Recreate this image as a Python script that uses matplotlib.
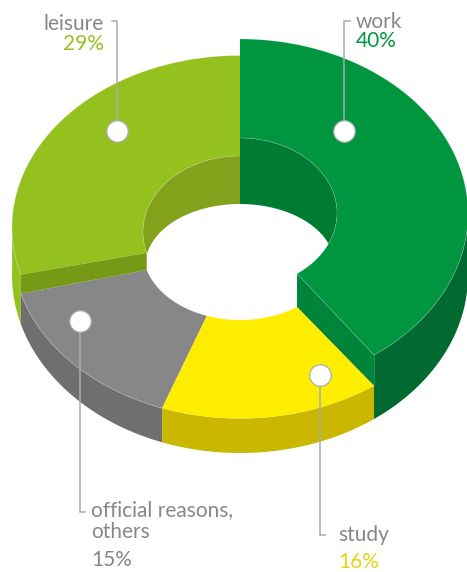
import numpy as np
import matplotlib
matplotlib.use("Agg")
import matplotlib.pyplot as plt

categories = ["work", "study", "official reasons,\nothers", "leisure"]
values = [40, 15.55, 15.03, 29.42]
pct_labels = ["40%", "16%", "15%", "29%"]

top_col = ["#009640", "#FFED00", "#878787", "#95C11F"]
wall_col = ["#006A30", "#C9B700", "#706F6F", "#95C11F"]

plt.rcParams['font.family'] = ['Lato', 'DejaVu Sans']
fig = plt.figure(figsize=(4.67, 5.72), dpi=100)
ax = fig.add_axes([0, 0, 1, 1])
ax.set_xlim(0, 467)
ax.set_ylim(572, 0)
ax.axis("off")

edges = np.concatenate([[0], np.cumsum(values)]) / sum(values) * 360.0
CX = 240


def arc(t0, t1, a, cy, b, n=120):
    t = np.radians(np.linspace(t0, t1, n))
    return CX + a * np.sin(t), cy - b * np.cos(t)


def band(t0, t1, e1, e2, **kw):
    x1, y1 = arc(t0, t1, *e1)
    x2, y2 = arc(t1, t0, *e2)
    ax.fill(np.r_[x1, x2], np.r_[y1, y2], lw=0, **kw)


# ellipses: (a, cy, b)
base_out = (228, 275, 178)
outer = [(228, 213.7, 174.7), (228, 246.5, 172), (228, 246.5, 172), (228, 227.5, 172)]
inner = [(97, 213, 75), (97, 251, 69), (97, 251, 69), (97, 232, 76)]
hole = (94.5, 265, 61)

# outer walls
wall_ranges = [(85, edges[1]), (edges[1], edges[2]), (edges[2], edges[3]), (edges[3], 272)]
order = [3, 0, 2, 1]
for i in order:
    t0, t1 = wall_ranges[i]
    band(t0, t1, outer[i], base_out, color=wall_col[i], zorder=1)

# leisure top face
for i in [3]:
    band(edges[i], edges[i + 1], outer[i], inner[i], color=top_col[i], zorder=2)

# inner walls
inner_wall = {0: "#007B34", 3: "#83A21B"}
for i, c in inner_wall.items():
    x, y = arc(edges[i], edges[i + 1], *inner[i])
    ax.fill(np.r_[CX, x], np.r_[inner[i][1], y], color=c, lw=0, zorder=3)

# hole
hx, hy = arc(0, 360, *hole, n=240)
ax.fill(hx, hy, color="white", lw=0, zorder=4)

# front top faces
for i in [2, 1]:
    band(edges[i], edges[i + 1], outer[i], inner[i], color=top_col[i], zorder=5)


def corner(theta, e):
    x, y = arc(theta, theta, *e, n=1)
    return x[0], y[0]


# end face of leisure
p = [corner(edges[3], outer[3]), corner(edges[3], inner[3]),
     corner(edges[3], inner[2]), corner(edges[3], outer[2])]
ax.fill(*zip(*p), color="#769A16", lw=0, zorder=6)

# end face of work
p = [corner(edges[1], outer[0]), corner(edges[1], inner[0]),
     corner(edges[1], inner[1]), corner(edges[1], outer[1])]
ax.fill(*zip(*p), color="#00843A", lw=0, zorder=6)

# work top face
band(edges[0], edges[1], outer[0], inner[0], color=top_col[0], zorder=7)

# faint light seams along face edges
seam = dict(color="white", alpha=0.25, lw=0.5, zorder=8)
for i in [0, 3]:
    ax.plot(*arc(edges[i], edges[i + 1], *inner[i]), **seam)
    ax.plot(*arc(edges[i], edges[i + 1], *outer[i]), **seam)
ax.plot(*zip(corner(edges[1], outer[0]), corner(edges[1], outer[1])), **seam)
ax.plot(*zip(corner(edges[1], outer[0]), corner(edges[1], inner[0])), **seam)
ax.plot(*arc(edges[2], edges[3], *outer[2]), **seam)

# call-outs
line_col = "#ABABAB"
leaders = {
    0: ([350, 344, 344], [21, 21, 131]),
    1: ([325, 320, 320], [535, 535, 375]),
    2: ([85, 80, 80], [512, 512, 321]),
    3: ([112, 117, 117], [21, 21, 131]),
}
for i, (lx, ly) in leaders.items():
    ax.plot(lx, ly, color=line_col, lw=1.1, zorder=9, solid_joinstyle="miter")
    ax.plot(lx[-1], ly[-1], "o", ms=15.5, mfc="white", mec=line_col, mew=0.9, zorder=10)

label_col = "#878787"
fs = 15
txt = dict(fontsize=fs, fontweight="normal", va="baseline", zorder=11)
ax.text(356, 28, categories[0], ha="left", color=label_col, **txt)
ax.text(356, 47, pct_labels[0], ha="left", color=top_col[0], **txt)
ax.text(104, 30, categories[3], ha="right", color=label_col, **txt)
ax.text(104, 50, pct_labels[3], ha="right", color=top_col[3], **txt)
ax.text(338, 541, categories[1], ha="left", color=label_col, **txt)
ax.text(338, 568, pct_labels[1], ha="left", color="#E6D31A", **txt)
first, second = categories[2].split("\n")
ax.text(91, 516, first, ha="left", color=label_col, **txt)
ax.text(91, 538, second, ha="left", color=label_col, **txt)
ax.text(91, 566, pct_labels[2], ha="left", color=label_col, **txt)

fig.savefig("out.png", dpi=100)
